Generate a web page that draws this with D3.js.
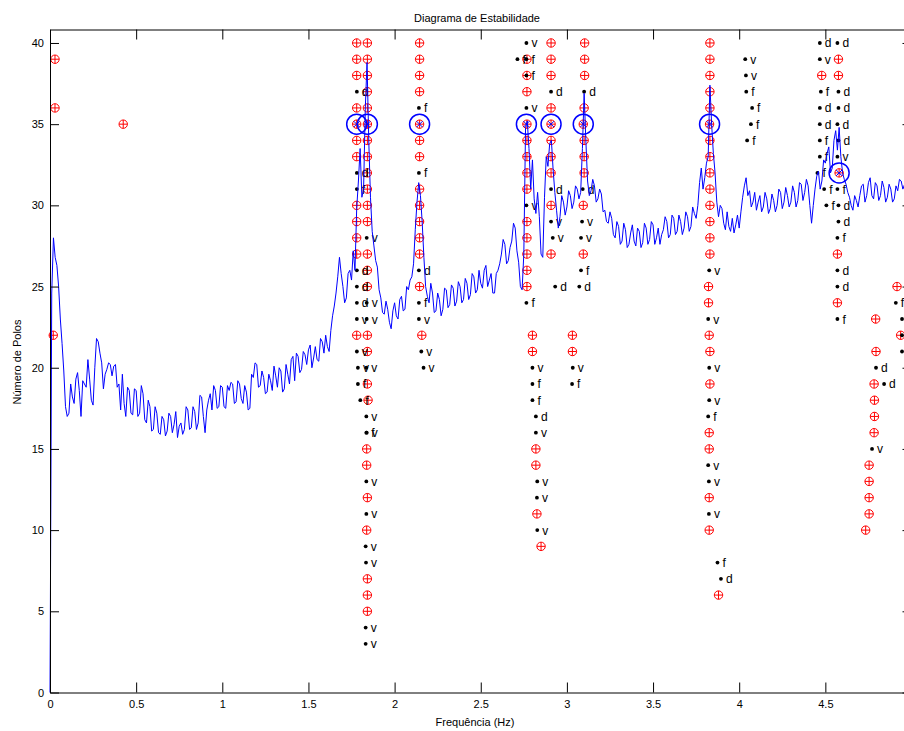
<!DOCTYPE html>
<html>
<head>
<meta charset="utf-8">
<script src="https://cdn.jsdelivr.net/npm/d3@7"></script>
<style>
  body { margin: 0; background: #fff; }
  svg { display: block; }
  text { font-family: "Liberation Sans", Arial, sans-serif; }
</style>
</head>
<body>
<svg id="svg" width="904" height="731"></svg>
<script>
// espectro (escalado ao eixo de polos), passo de 0.01 Hz a partir de 0
const specStep = 0.01;
const spectrum = [
  0, 24.6, 28.0, 26.8, 26.3, 25.0, 23.0, 21.5, 19.8, 17.6,
  17.0, 17.2, 19.0, 18.2, 17.8, 19.3, 19.7, 18.6, 17.0, 19.2,
  19.0, 18.8, 20.5, 19.3, 18.0, 17.7, 20.0, 21.8, 21.6, 20.9,
  20.3, 18.7, 19.6, 19.9, 20.3, 20.2, 19.5, 20.1, 20.2, 18.8,
  19.0, 17.4, 19.6, 17.8, 17.0, 18.8, 18.6, 17.2, 17.1, 18.7,
  18.6, 17.0, 17.2, 18.9, 18.4, 16.8, 16.6, 18.0, 17.6, 16.1,
  16.2, 17.6, 17.2, 16.0, 15.9, 17.0, 16.8, 15.8, 16.1, 17.2,
  17.0, 16.0, 16.5, 17.3, 15.7, 16.4, 16.6, 15.9, 16.2, 17.6,
  17.4, 16.2, 16.3, 17.6, 17.3, 16.2, 16.6, 18.3, 18.2, 17.0,
  16.0, 17.4, 18.0, 18.4, 17.4, 18.9, 18.6, 17.5, 17.6, 18.9,
  18.8, 17.6, 17.5, 18.9, 18.6, 19.1, 19.0, 17.8, 17.9, 19.2,
  19.0, 18.1, 17.8, 18.9, 18.5, 17.4, 17.5, 19.6, 19.4, 20.3,
  20.2, 18.8, 18.9, 19.8, 19.4, 18.4, 18.5, 19.6, 19.2, 18.6,
  20.1, 19.5, 18.8, 20.0, 19.8, 18.5, 18.7, 20.2, 19.6, 19.0,
  20.5, 20.7, 19.2, 20.9, 20.7, 19.7, 19.9, 21.0, 20.8, 20.2,
  21.1, 21.4, 20.0, 20.6, 21.3, 20.5, 20.4, 21.8, 21.6, 20.9,
  22.0, 21.3, 21.0, 22.3, 23.2, 23.8, 24.6, 25.6, 26.8, 25.8,
  25.0, 24.0, 24.3, 25.8, 26.0, 25.4, 27.2, 26.0, 29.8, 31.5,
  33.5, 30.5, 31.0, 36.0, 38.8, 34.0, 30.5, 28.4, 27.5, 26.6,
  26.2, 24.8, 24.3, 23.4, 23.3, 24.1, 23.6, 22.8, 22.4, 23.5,
  24.0, 23.2, 23.0, 24.2, 24.4, 23.5, 23.6, 25.0, 24.8, 25.4,
  25.6, 26.4, 28.5, 30.2, 31.4, 30.6, 29.0, 26.8, 25.0, 24.4,
  24.0, 25.2, 24.6, 23.4, 23.5, 24.6, 24.2, 23.2, 23.6, 24.9,
  24.8, 23.7, 23.9, 25.1, 24.9, 23.8, 24.1, 25.3, 25.0, 24.0,
  24.2, 25.5, 25.2, 24.2, 24.5, 25.8, 25.6, 24.6, 24.8, 26.0,
  25.2, 24.9, 26.0, 26.3, 25.0, 25.4, 25.8, 24.6, 24.6, 25.8,
  26.0, 26.4, 27.0, 27.9, 27.6, 26.4, 26.6, 27.4, 27.8, 28.9,
  28.6, 27.2, 26.5, 25.0, 24.8, 27.0, 34.8, 35.2, 33.5, 31.0,
  32.8, 30.4, 29.5, 30.8, 29.3, 27.0, 26.8, 30.5, 33.0, 32.4,
  33.8, 34.0, 32.2, 30.8, 29.7, 28.6, 29.3, 30.6, 30.2, 29.4,
  29.9, 30.9, 30.6, 29.8, 30.2, 31.2, 31.0, 30.4, 30.8, 33.5,
  36.9, 34.0, 31.5, 30.6, 30.9, 31.6, 31.2, 30.2, 30.4, 31.0,
  30.7, 29.6, 29.7, 29.0, 28.9, 29.6, 29.2, 28.2, 28.0, 29.0,
  28.7, 27.6, 27.8, 28.9, 28.5, 27.4, 27.6, 28.3, 28.8, 27.8,
  27.5, 28.6, 28.4, 27.4, 27.7, 28.9, 28.6, 27.6, 27.9, 29.0,
  28.8, 27.6, 28.0, 28.6, 27.6, 28.2, 28.5, 29.3, 29.0, 28.0,
  28.2, 29.4, 29.2, 28.2, 28.4, 29.4, 29.0, 28.2, 28.6, 29.6,
  29.3, 28.4, 28.7, 29.9, 29.5, 29.2, 30.0, 31.4, 32.3, 31.0,
  31.7, 32.6, 33.0, 37.4, 35.0, 33.2, 32.0, 30.2, 29.3, 30.0,
  29.8, 28.9, 28.5, 29.6, 28.7, 28.4, 29.2, 28.3, 28.8, 29.4,
  28.6, 29.6, 30.5, 31.2, 31.7, 30.6, 30.9, 29.9, 30.2, 30.8,
  29.7, 30.2, 30.6, 29.6, 29.9, 30.8, 30.4, 29.5, 29.8, 30.7,
  30.3, 29.6, 30.0, 31.0, 30.8, 29.8, 30.2, 31.1, 30.6, 29.9,
  30.2, 31.2, 30.8, 29.9, 30.3, 31.4, 31.3, 30.3, 30.8, 31.6,
  31.2, 30.0, 28.9, 30.0, 31.0, 31.8, 32.1, 31.0, 31.5, 32.8,
  32.6, 33.2, 33.6, 32.0, 32.3, 34.0, 34.6, 33.4, 34.8, 33.0,
  32.0, 31.6, 31.3, 30.8, 30.5, 30.0, 29.7, 30.6, 30.3, 29.9,
  30.6, 31.2, 31.3, 30.2, 30.6, 31.4, 31.7, 30.6, 30.4, 31.4,
  31.2, 30.3, 30.6, 31.5, 31.1, 30.2, 30.5, 31.3, 31.0, 30.2,
  30.4, 31.2, 30.9, 31.6, 31.5, 31.0, 31.3, 31.6, 31.0, 31.2,
  31.0
];

// polos estáveis [frequência, ordem]
const stablePoles = [
  [0.029, 39], [0.029, 36], [0.425, 35], [0.019, 22],
  [1.780, 40], [1.780, 39], [1.780, 38], [1.780, 36], [1.780, 35], [1.780, 34],
  [1.780, 33], [1.780, 30], [1.780, 29], [1.780, 28], [1.780, 27], [1.780, 22],
  [1.842, 40], [1.842, 39], [1.842, 38], [1.842, 37], [1.842, 36], [1.842, 35],
  [1.842, 34], [1.842, 33], [1.842, 32], [1.842, 31], [1.842, 30], [1.842, 29],
  [1.842, 27], [1.842, 26], [1.842, 25], [1.842, 22], [1.842, 21], [1.842, 19],
  [1.846, 18], [1.838, 15], [1.838, 14], [1.842, 12], [1.838, 10], [1.842, 7],
  [1.842, 6], [1.842, 5],
  [2.145, 40], [2.145, 39], [2.145, 38], [2.145, 37], [2.145, 35], [2.145, 34],
  [2.145, 33], [2.145, 31], [2.145, 30], [2.145, 29], [2.145, 28], [2.145, 27],
  [2.145, 25], [2.158, 22],
  [2.768, 39], [2.768, 38], [2.768, 37], [2.768, 35], [2.768, 34], [2.768, 33],
  [2.768, 32], [2.768, 31], [2.768, 29], [2.768, 28], [2.768, 27], [2.768, 26],
  [2.768, 25],
  [2.800, 22], [2.800, 21], [2.820, 15], [2.820, 14], [2.826, 11], [2.850, 9],
  [2.908, 40], [2.908, 39], [2.908, 38], [2.908, 36], [2.908, 35], [2.908, 34],
  [2.908, 33], [2.908, 32], [2.908, 30], [2.908, 27],
  [3.103, 40], [3.103, 39], [3.103, 38], [3.100, 36], [3.095, 35], [3.100, 34],
  [3.100, 33], [3.100, 32], [3.095, 30], [3.095, 27],
  [3.032, 22], [3.032, 21],
  [3.830, 40], [3.830, 39], [3.830, 38], [3.830, 37], [3.830, 36], [3.828, 35],
  [3.830, 34], [3.830, 33], [3.830, 32], [3.830, 31], [3.830, 30], [3.830, 29],
  [3.830, 28], [3.830, 27], [3.822, 25], [3.822, 24], [3.826, 22], [3.830, 21],
  [3.830, 19], [3.826, 16], [3.826, 15], [3.826, 12], [3.826, 10], [3.880, 6],
  [4.479, 38],
  [4.576, 39], [4.576, 38], [4.580, 32], [4.570, 27], [4.570, 24],
  [4.792, 23], [4.794, 21], [4.783, 19], [4.785, 18], [4.785, 17], [4.783, 16],
  [4.754, 14], [4.754, 13], [4.754, 12], [4.754, 11], [4.734, 10],
  [4.916, 25], [4.937, 22]
];

// outros polos [frequência, ordem, critério]
const otherPoles = [
  [1.781, 37, "d"], [1.781, 32, "d"], [1.781, 31, "f"], [1.781, 26, "d"],
  [1.781, 25, "d"], [1.781, 24, "d"], [1.781, 23, "v"], [1.781, 21, "v"],
  [1.787, 20, "v"], [1.787, 19, "f"], [1.801, 18, "f"],
  [1.838, 28, "v"], [1.838, 24, "v"], [1.838, 23, "v"], [1.836, 20, "v"],
  [1.836, 17, "v"], [1.836, 16, "f"], [1.838, 16, "v"], [1.836, 13, "v"],
  [1.836, 11, "v"], [1.832, 9, "v"], [1.834, 8, "v"], [1.832, 4, "v"], [1.832, 3, "v"],
  [2.141, 36, "f"], [2.141, 32, "f"], [2.141, 26, "d"], [2.141, 24, "f"],
  [2.141, 23, "v"], [2.155, 21, "v"], [2.168, 20, "v"],
  [2.765, 40, "v"], [2.713, 39, "f"], [2.765, 39, "f"], [2.765, 38, "f"],
  [2.765, 36, "v"], [2.765, 30, "v"], [2.765, 24, "f"],
  [2.800, 20, "v"], [2.800, 19, "f"], [2.800, 18, "f"], [2.820, 17, "d"],
  [2.820, 16, "v"], [2.828, 13, "v"], [2.826, 12, "v"], [2.828, 10, "v"],
  [2.908, 37, "d"], [2.908, 31, "d"], [2.908, 29, "v"], [2.918, 28, "v"],
  [2.932, 25, "d"],
  [3.100, 37, "d"], [3.092, 31, "d"], [3.088, 29, "v"], [3.082, 28, "v"],
  [3.082, 26, "f"], [3.072, 25, "d"],
  [3.034, 20, "v"], [3.030, 19, "f"],
  [3.826, 26, "v"], [3.820, 23, "v"], [3.826, 20, "v"], [3.826, 18, "v"],
  [3.820, 17, "f"], [3.820, 14, "v"], [3.824, 13, "v"], [3.824, 11, "v"],
  [3.874, 8, "f"], [3.894, 7, "d"],
  [4.035, 39, "v"], [4.039, 38, "v"], [4.041, 37, "f"], [4.075, 36, "f"],
  [4.068, 35, "f"], [4.046, 34, "f"],
  [4.468, 40, "d"], [4.468, 39, "v"], [4.474, 37, "f"], [4.468, 36, "d"],
  [4.468, 35, "d"], [4.468, 34, "f"], [4.468, 33, "f"], [4.454, 32, "f"],
  [4.493, 31, "f"], [4.506, 30, "f"],
  [4.570, 40, "d"], [4.576, 37, "d"], [4.576, 36, "d"], [4.570, 35, "d"],
  [4.576, 34, "d"], [4.570, 33, "v"], [4.570, 31, "f"], [4.576, 30, "d"],
  [4.576, 29, "d"], [4.570, 28, "f"], [4.570, 26, "d"], [4.570, 25, "d"],
  [4.570, 23, "f"],
  [4.794, 20, "d"], [4.841, 19, "d"], [4.771, 15, "v"],
  [4.909, 24, "f"], [4.945, 23, "v"], [4.945, 22, "v"], [4.945, 21, "v"]
];

// modos escolhidos (círculos azuis)
const selectedModes = [
  [1.780, 35], [1.842, 35], [2.145, 35], [2.765, 35],
  [2.908, 35], [3.095, 35], [3.828, 35], [4.580, 32]
];

const xTicks = [0, 0.5, 1, 1.5, 2, 2.5, 3, 3.5, 4, 4.5];
const yTicks = [0, 5, 10, 15, 20, 25, 30, 35, 40];

const svg = d3.select("#svg");
const x = d3.scaleLinear().domain([0, 5]).range([50, 911.5]);
const y = d3.scaleLinear().domain([0, 40.83]).range([692.5, 29.5]);

const FONT = "Liberation Sans, Arial, sans-serif";

// polos estáveis: círculo + cruz vermelhos
const sp = svg.append("g").attr("stroke", "#ff0000").attr("fill", "none").attr("stroke-width", 1);
stablePoles.forEach(d => {
  const cx = x(d[0]), cy = y(d[1]);
  sp.append("circle").attr("cx", cx).attr("cy", cy).attr("r", 4.2);
  sp.append("line").attr("x1", cx - 4.2).attr("x2", cx + 4.2).attr("y1", cy).attr("y2", cy);
  sp.append("line").attr("x1", cx).attr("x2", cx).attr("y1", cy - 4.2).attr("y2", cy + 4.2);
});

// outros polos: ponto preto + letra
const op = svg.append("g");
otherPoles.forEach(d => {
  const cx = x(d[0]), cy = y(d[1]);
  op.append("circle").attr("cx", cx).attr("cy", cy).attr("r", 1.9).attr("fill", "#000");
  op.append("text").attr("x", cx + 5).attr("y", cy + 4.5)
    .attr("font-size", 12).attr("font-family", FONT).attr("fill", "#000")
    .text(d[2]);
});

// espectro
const line = d3.line().x((d, i) => x(i * specStep)).y(d => y(d));
svg.append("path")
  .attr("d", line(spectrum))
  .attr("fill", "none")
  .attr("stroke", "#0000ff")
  .attr("stroke-width", 1);

// modos escolhidos
const sm = svg.append("g").attr("stroke", "#0000ff").attr("fill", "none");
selectedModes.forEach(d => {
  const cx = x(d[0]), cy = y(d[1]);
  sm.append("circle").attr("cx", cx).attr("cy", cy).attr("r", 10).attr("stroke-width", 1.5);
  sm.append("line").attr("x1", cx - 3).attr("x2", cx + 3).attr("y1", cy - 3).attr("y2", cy + 3).attr("stroke-width", 1);
  sm.append("line").attr("x1", cx - 3).attr("x2", cx + 3).attr("y1", cy + 3).attr("y2", cy - 3).attr("stroke-width", 1);
});

// eixos (caixa com marcas para dentro)
function styleAxis(g) {
  g.selectAll("path").attr("stroke", "#000");
  g.selectAll("line").attr("stroke", "#000");
  g.selectAll("text").attr("font-family", FONT).attr("font-size", 11).attr("fill", "#000");
}
svg.append("g").attr("transform", "translate(0,692.5)")
  .call(d3.axisBottom(x).tickValues(xTicks).tickSizeInner(-10).tickSizeOuter(0).tickPadding(8).tickFormat(d3.format("")))
  .call(styleAxis);
svg.append("g").attr("transform", "translate(0,29.5)")
  .call(d3.axisTop(x).tickValues(xTicks).tickSizeInner(-10).tickSizeOuter(0).tickFormat(""))
  .call(styleAxis);
svg.append("g").attr("transform", "translate(50,0)")
  .call(d3.axisLeft(y).tickValues(yTicks).tickSizeInner(-9).tickSizeOuter(0).tickPadding(6))
  .call(styleAxis);
svg.append("g").attr("transform", "translate(911.5,0)")
  .call(d3.axisRight(y).tickValues(yTicks).tickSizeInner(-9).tickSizeOuter(0).tickFormat(""))
  .call(styleAxis);

// textos
svg.append("text").attr("x", 477).attr("y", 22).attr("text-anchor", "middle")
  .attr("font-size", 11).attr("font-family", FONT).text("Diagrama de Estabilidade");
svg.append("text").attr("x", 475).attr("y", 726).attr("text-anchor", "middle")
  .attr("font-size", 11).attr("font-family", FONT).text("Frequência (Hz)");
svg.append("text").attr("transform", "translate(21,362) rotate(-90)").attr("text-anchor", "middle")
  .attr("font-size", 11).attr("font-family", FONT).text("Número de Polos");
</script>
</body>
</html>
